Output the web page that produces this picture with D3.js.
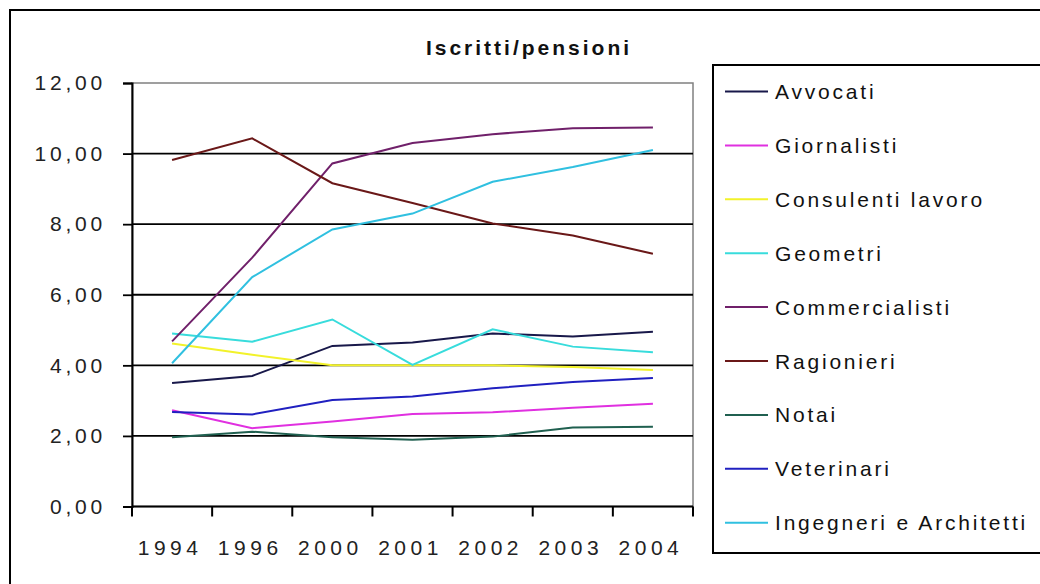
<!DOCTYPE html>
<html>
<head>
<meta charset="utf-8">
<script src="https://cdn.jsdelivr.net/npm/d3@7"></script>
<style>
  html, body { margin: 0; padding: 0; background: #fff; }
  svg { display: block; font-family: "Liberation Sans", Arial, sans-serif; }
</style>
</head>
<body>
<div id="showBox"></div>
<script>
// categories (years) and one array per series
const years = ["1994", "1996", "2000", "2001", "2002", "2003", "2004"]
const yTicks = [0, 2, 4, 6, 8, 10, 12]

const avvocati       = [3.50, 3.70, 4.55, 4.65, 4.90, 4.82, 4.95]
const giornalisti    = [2.73, 2.22, 2.41, 2.62, 2.67, 2.80, 2.91]
const consulenti     = [4.62, 4.30, 4.00, 4.00, 4.00, 3.95, 3.87]
const geometri       = [4.90, 4.67, 5.30, 4.01, 5.02, 4.53, 4.37]
const commercialisti = [4.68, 7.05, 9.72, 10.30, 10.55, 10.72, 10.74]
const ragionieri     = [9.82, 10.43, 9.16, 8.60, 8.02, 7.68, 7.16]
const notai          = [1.96, 2.12, 1.96, 1.89, 1.98, 2.24, 2.26]
const veterinari     = [2.68, 2.61, 3.02, 3.12, 3.35, 3.53, 3.64]
const ingegneri      = [4.06, 6.50, 7.85, 8.30, 9.20, 9.62, 10.10]

const seriesNames = ["Avvocati", "Giornalisti", "Consulenti lavoro", "Geometri",
    "Commercialisti", "Ragionieri", "Notai", "Veterinari", "Ingegneri e Architetti"]
const seriesValues = [avvocati, giornalisti, consulenti, geometri,
    commercialisti, ragionieri, notai, veterinari, ingegneri]
const seriesColors = ["#18184a", "#e030e0", "#f2f22a", "#38dcdc",
    "#70206a", "#6a1818", "#206050", "#2020c0", "#30c0e0"]

const width = 1040, height = 584
const plot = {left: 132, right: 693, top: 83, bottom: 506.5}

const svg = d3.select("#showBox").append("svg")
    .attr("width", width)
    .attr("height", height)

// outer chart frame (runs off the right and bottom edges)
svg.append("rect")
    .attr("x", 10).attr("y", 10)
    .attr("width", 1100).attr("height", 700)
    .attr("fill", "none").attr("stroke", "#000").attr("stroke-width", 2)

const x = d3.scaleBand().domain(years).range([plot.left, plot.right])
const y = d3.scaleLinear().domain([0, 12]).range([plot.bottom, plot.top])

// plot area border
svg.append("rect")
    .attr("x", plot.left).attr("y", plot.top)
    .attr("width", plot.right - plot.left).attr("height", plot.bottom - plot.top)
    .attr("fill", "none").attr("stroke", "#808080").attr("stroke-width", 1.5)

// gridlines
svg.append("g")
    .selectAll("line")
    .data(yTicks.filter(d => d > 0 && d < 12))
    .join("line")
    .attr("x1", plot.left).attr("x2", plot.right)
    .attr("y1", d => y(d)).attr("y2", d => y(d))
    .attr("stroke", "#000").attr("stroke-width", 1.8)

// y axis
const fmt = d => d3.format(".2f")(d).replace(".", ",")
const yAxis = svg.append("g")
    .attr("transform", `translate(${plot.left},0)`)
    .call(d3.axisLeft(y).tickValues(yTicks).tickFormat(fmt).tickSize(9).tickPadding(17))
yAxis.select(".domain").attr("stroke", "#000").attr("stroke-width", 2)
yAxis.selectAll(".tick line").attr("stroke", "#000").attr("stroke-width", 1.8)
yAxis.selectAll("text")
    .attr("font-size", 21).attr("fill", "#222")
    .attr("letter-spacing", "3.8px")
    .attr("font-family", "'Liberation Sans', Arial, sans-serif")

// x axis: ticks between categories
const xAxis = svg.append("g")
    .attr("transform", `translate(0,${plot.bottom})`)
xAxis.append("line")
    .attr("x1", plot.left).attr("x2", plot.right)
    .attr("stroke", "#000").attr("stroke-width", 2)
xAxis.selectAll("line.tick")
    .data(years.concat(["end"]))
    .join("line")
    .attr("class", "tick")
    .attr("x1", (d, i) => plot.left + i * x.step())
    .attr("x2", (d, i) => plot.left + i * x.step())
    .attr("y1", 0).attr("y2", 10)
    .attr("stroke", "#000").attr("stroke-width", 2)
xAxis.selectAll("text")
    .data(years)
    .join("text")
    .attr("x", d => x(d) + x.bandwidth() / 2 - 2)
    .attr("y", 48)
    .attr("text-anchor", "middle")
    .attr("font-size", 21).attr("fill", "#222")
    .attr("letter-spacing", "4.5px")
    .text(d => d)

// series lines
const line = d3.line()
    .x((d, i) => x(years[i]) + x.bandwidth() / 2)
    .y(d => y(d))

svg.append("g")
    .attr("fill", "none")
    .attr("stroke-width", 2)
    .selectAll("path")
    .data(seriesValues)
    .join("path")
    .attr("stroke", (d, i) => seriesColors[i])
    .attr("d", d => line(d))

// title
svg.append("text")
    .attr("x", 529).attr("y", 55)
    .attr("text-anchor", "middle")
    .attr("font-size", 21).attr("font-weight", "bold")
    .attr("letter-spacing", "3px")
    .attr("fill", "#111")
    .text("Iscritti/pensioni")

// legend
const legend = svg.append("g")
legend.append("rect")
    .attr("x", 713).attr("y", 65)
    .attr("width", 400).attr("height", 488)
    .attr("fill", "none").attr("stroke", "#000").attr("stroke-width", 2)

const item = legend.selectAll("g.item")
    .data(seriesNames)
    .join("g")
    .attr("class", "item")
    .attr("transform", (d, i) => `translate(0,${91.5 + i * 53.9})`)
item.append("line")
    .attr("x1", 725).attr("x2", 768)
    .attr("stroke", (d, i) => seriesColors[i])
    .attr("stroke-width", 2)
item.append("text")
    .attr("x", 775).attr("dy", "0.36em")
    .attr("font-size", 21).attr("fill", "#111")
    .attr("letter-spacing", "2.8px")
    .text(d => d)
</script>
</body>
</html>
